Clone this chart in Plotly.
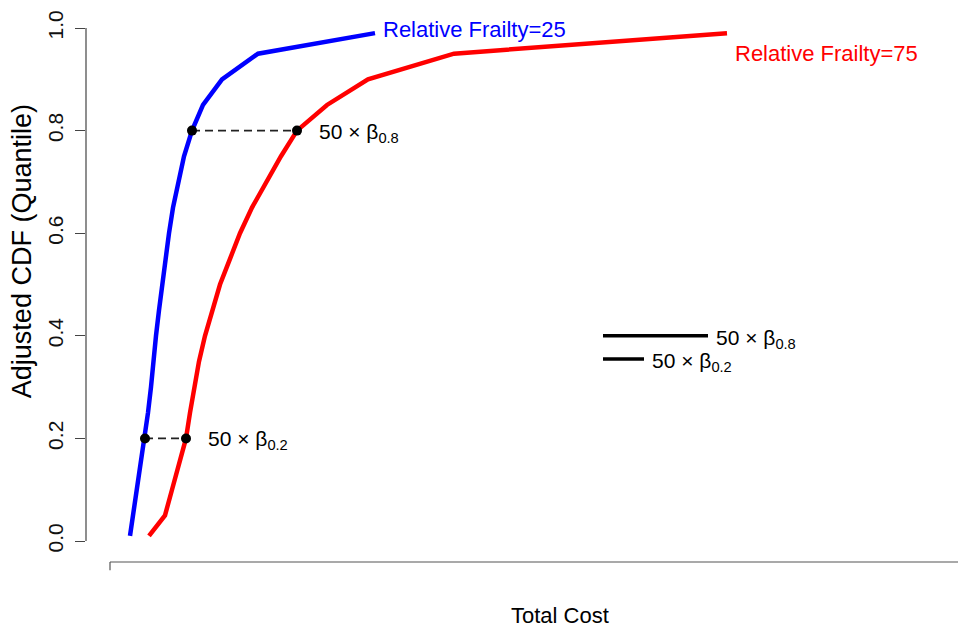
import plotly.graph_objects as go

# Quantile levels (adjusted CDF)
probs = [0.01, 0.05, 0.10, 0.15, 0.20, 0.25, 0.30, 0.35, 0.40, 0.45, 0.50,
         0.55, 0.60, 0.65, 0.70, 0.75, 0.80, 0.85, 0.90, 0.95, 0.99]
# Total cost quantiles (arbitrary units)
cost_frailty25 = [20, 23, 27, 31, 35, 38, 41, 43, 46, 49, 52,
                  55, 59, 63, 68, 74, 82, 93, 112, 148, 265]
cost_frailty75 = [39, 55, 62, 69, 76, 80, 84, 89, 95, 102, 110,
                  120, 130, 142, 156, 171, 187, 217, 258, 344, 617]

series_names = ["Relative Frailty=25", "Relative Frailty=75"]
series_colors = ["#0000FF", "#FF0000"]
y_ticks = [0.0, 0.2, 0.4, 0.6, 0.8, 1.0]
y_tick_text = ["0.0", "0.2", "0.4", "0.6", "0.8", "1.0"]
marked_probs = [0.2, 0.8]
diff_legend_x0 = 493
diff_legend_y = {0.8: 0.40, 0.2: 0.355}

FONT = "Liberation Sans, Arial, sans-serif"

fig = go.Figure()

for xs, name, col in zip([cost_frailty25, cost_frailty75], series_names, series_colors):
    fig.add_trace(go.Scatter(x=xs, y=probs, mode="lines", name=name,
                             line=dict(color=col, width=4.5), showlegend=False,
                             hoverinfo="skip"))

# dashed connectors and dots at the marked quantiles
for p in marked_probs:
    i = probs.index(p)
    xa, xb = cost_frailty25[i], cost_frailty75[i]
    fig.add_trace(go.Scatter(x=[xa, xb], y=[p, p], mode="lines",
                             line=dict(color="#222222", width=1.7, dash="8px,5px"),
                             showlegend=False, hoverinfo="skip"))
    fig.add_trace(go.Scatter(x=[xa, xb], y=[p, p], mode="markers",
                             marker=dict(color="black", size=10),
                             showlegend=False, hoverinfo="skip"))
    fig.add_annotation(x=xb, y=p, xref="x", yref="y", xanchor="left", yanchor="middle",
                       xshift=20, yshift=-2, showarrow=False,
                       text="50 × β<sub>%s</sub>" % str(p),
                       font=dict(family=FONT, size=21, color="black"))
    # difference bars
    d = xb - xa
    yl = diff_legend_y[p]
    fig.add_trace(go.Scatter(x=[diff_legend_x0, diff_legend_x0 + d], y=[yl, yl],
                             mode="lines", line=dict(color="black", width=3.5),
                             showlegend=False, hoverinfo="skip"))
    fig.add_annotation(x=diff_legend_x0 + d, y=yl, xref="x", yref="y",
                       xanchor="left", yanchor="middle", xshift=6, yshift=-3,
                       showarrow=False, text="50 × β<sub>%s</sub>" % str(p),
                       font=dict(family=FONT, size=21, color="black"))

# series labels
fig.add_annotation(x=cost_frailty25[-1], y=probs[-1], xref="x", yref="y",
                   xanchor="left", yanchor="middle", xshift=6, yshift=4, showarrow=False,
                   text=series_names[0], font=dict(family=FONT, size=22, color=series_colors[0]))
fig.add_annotation(x=cost_frailty75[-1], y=probs[-1], xref="x", yref="y",
                   xanchor="left", yanchor="middle", xshift=6, yshift=-20, showarrow=False,
                   text=series_names[1], font=dict(family=FONT, size=22, color=series_colors[1]))

# R-style axis lines
fig.add_shape(type="line", xref="paper", yref="y", x0=0, x1=0, y0=0, y1=1,
              line=dict(color="#444444", width=1.2))
fig.add_shape(type="line", xref="x", yref="paper", x0=0, x1=900, y0=0, y1=0,
              line=dict(color="#555555", width=1.2))
fig.add_shape(type="line", xref="x", yref="paper", x0=0, x1=0, y0=0, y1=-0.015,
              line=dict(color="#555555", width=1.2))

# axis titles
fig.add_annotation(x=0, y=0.565, xref="paper", yref="y", xshift=-64, showarrow=False,
                   textangle=-90, xanchor="center", yanchor="middle",
                   text="Adjusted CDF (Quantile)",
                   font=dict(family=FONT, size=27, color="black"))
fig.add_annotation(x=450, y=0, xref="x", yref="paper", yshift=-53, showarrow=False,
                   xanchor="center", yanchor="middle", text="Total Cost",
                   font=dict(family=FONT, size=22, color="black"))

# page body has an 8px margin, so the figure is 8px smaller and shifted
fig.update_layout(
    width=958, height=620,
    margin=dict(l=78, r=0, t=0, b=66),
    paper_bgcolor="white", plot_bgcolor="white",
    xaxis=dict(range=[-24, 856], showgrid=False, zeroline=False, showline=False,
               showticklabels=False, ticks="", automargin=False),
    yaxis=dict(range=[-0.0409, 1.039], showgrid=False, zeroline=False, showline=False,
               tickvals=y_ticks, ticktext=y_tick_text, ticks="outside", ticklen=10,
               tickcolor="#444444", tickwidth=1.2, tickangle=-90,
               ticklabelstandoff=4, automargin=False,
               tickfont=dict(family=FONT, size=21, color="#111111")),
)

fig.write_html("out.html")
